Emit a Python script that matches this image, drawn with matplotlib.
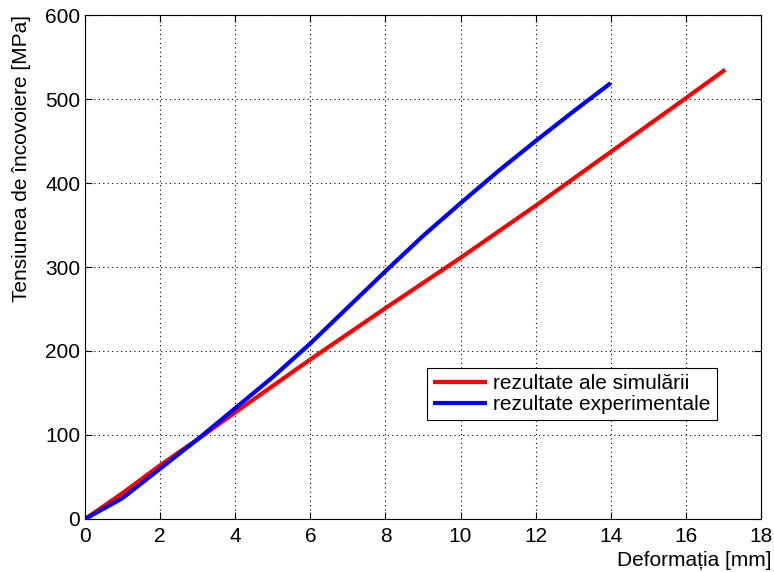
import numpy as np
import matplotlib
matplotlib.use("Agg")
import matplotlib.pyplot as plt

plt.rcParams["font.family"] = ["Liberation Sans", "DejaVu Sans"]

# simulation (red)
sim_x = [0, 1, 2, 3, 4, 6, 8, 10, 12, 14, 16, 17.05]
sim_y = [0, 31, 64, 95, 127, 190, 251, 311, 373, 437, 501, 535]

# experiment (blue)
exp_x = [0, 1, 2, 3, 4, 5, 6, 7, 8, 9, 10, 11, 12, 13, 14.0]
exp_y = [0, 25, 60, 95, 132, 169, 209, 252, 295, 337, 376, 414, 450, 485, 519]

xticks = np.arange(0, 19, 2)
yticks = np.arange(0, 601, 100)

fig = plt.figure(figsize=(7.74, 5.72), dpi=100)
ax = fig.add_axes([0.110, 0.0927, 0.873, 0.881])

ax.plot(sim_x, sim_y, color="#ff0000", lw=3, label="rezultate ale simulării",
        solid_capstyle="butt", solid_joinstyle="round")
ax.plot(exp_x, exp_y, color="#0000ff", lw=3, label="rezultate experimentale",
        solid_capstyle="butt", solid_joinstyle="round")

ax.set_xlim(0, 18)
ax.set_ylim(0, 600)
ax.set_xticks(xticks)
ax.set_yticks(yticks)
ax.grid(True, ls=(0, (1, 3)), color="black", lw=0.8)
ax.tick_params(direction="in", top=True, right=True, labelsize=15, length=5)
ax.tick_params(axis="x", pad=6)
for s in ax.spines.values():
    s.set_linewidth(0.8)

ax.set_xlabel("Deformația [mm]", fontsize=15)
ax.xaxis.set_label_coords(1.016, -0.064)
ax.xaxis.label.set_horizontalalignment("right")
ax.set_ylabel("Tensiunea de încovoiere [MPa]", fontsize=15, loc="top", labelpad=10)

leg = ax.legend(loc="lower right", bbox_to_anchor=(0.935, 0.196), fontsize=15,
                fancybox=False, framealpha=1, edgecolor="black", borderaxespad=0,
                handlelength=2.6, borderpad=0.3, labelspacing=0.1, handletextpad=0.3)
leg.get_frame().set_linewidth(0.8)

fig.savefig("out.png", dpi=100)
